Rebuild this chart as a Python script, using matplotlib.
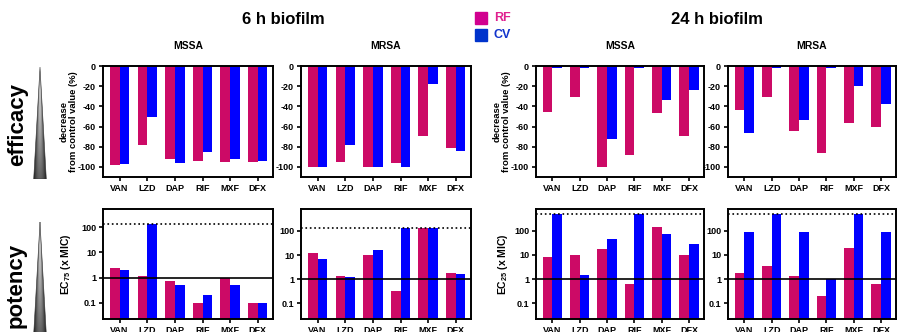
import numpy as np
import matplotlib
matplotlib.use('Agg')
from matplotlib import pyplot as plt
from matplotlib.patches import Polygon, Rectangle

plt.rcParams['font.family'] = ['Liberation Sans', 'DejaVu Sans']
plt.rcParams['font.weight'] = 'bold'
plt.rcParams['axes.unicode_minus'] = False
plt.rcParams['mathtext.fontset'] = 'custom'
plt.rcParams['mathtext.rm'] = 'Liberation Sans:bold'
plt.rcParams['mathtext.bf'] = 'Liberation Sans:bold'

drugs = ['VAN', 'LZD', 'DAP', 'RIF', 'MXF', 'DFX']

# efficacy: decrease from control value (%)
rf_6h_mssa = [-98, -78, -92, -94, -95, -95]
cv_6h_mssa = [-97, -51, -96, -85, -92, -94]
rf_6h_mrsa = [-100, -95, -100, -96, -69, -81]
cv_6h_mrsa = [-100, -78, -100, -100, -18, -84]
rf_24h_mssa = [-46, -31, -100, -88, -47, -69]
cv_24h_mssa = [-1.5, -1.5, -72, -1.5, -34, -24]
rf_24h_mrsa = [-44, -31, -64, -86, -56, -60]
cv_24h_mrsa = [-66, -1.5, -54, -1.5, -20, -38]

# potency: EC75 (6 h) / EC25 (24 h), x MIC
ec_rf_6h_mssa = [2.4, 1.15, 0.72, 0.1, 1.0, 0.1]
ec_cv_6h_mssa = [1.95, 128, 0.5, 0.2, 0.5, 0.1]
ec_rf_6h_mrsa = [12, 1.33, 9.7, 0.32, 128, 1.78]
ec_cv_6h_mrsa = [6.8, 1.2, 16, 128, 128, 1.6]
ec_rf_24h_mssa = [8.1, 10, 17.5, 0.63, 140, 10]
ec_cv_24h_mssa = [512, 1.47, 45, 512, 72, 28]
ec_rf_24h_mrsa = [1.78, 3.5, 1.33, 0.2, 19, 0.63]
ec_cv_24h_mrsa = [87, 512, 87, 1.0, 512, 87]

max_conc_6h = 128
max_conc_24h = 512

RF_COL = '#CC0A66'
CV_COL = '#0000FF'

W, H = 898, 332
fig = plt.figure(figsize=(W / 100, H / 100), dpi=100)


def px_axes(x0, y0, x1, y1):
    return fig.add_axes([x0 / W, 1 - y1 / H, (x1 - x0) / W, (y1 - y0) / H])


def style(ax):
    for s in ax.spines.values():
        s.set_linewidth(1.4)
    ax.tick_params(axis='both', labelsize=6.5, width=1.2, length=3, pad=2)
    ax.tick_params(axis='y', which='minor', length=0)
    ax.set_xlim(-0.6, 5.55)
    ax.set_xticks(np.arange(len(drugs)))
    ax.set_xticklabels(drugs, fontweight='bold')


xcols = [(103, 273), (301, 471), (536, 704), (728, 896)]
top_data = [(rf_6h_mssa, cv_6h_mssa), (rf_6h_mrsa, cv_6h_mrsa),
            (rf_24h_mssa, cv_24h_mssa), (rf_24h_mrsa, cv_24h_mrsa)]
bot_data = [(ec_rf_6h_mssa, ec_cv_6h_mssa), (ec_rf_6h_mrsa, ec_cv_6h_mrsa),
            (ec_rf_24h_mssa, ec_cv_24h_mssa), (ec_rf_24h_mrsa, ec_cv_24h_mrsa)]
strains = ['MSSA', 'MRSA', 'MSSA', 'MRSA']
max_lines = [max_conc_6h, max_conc_6h, max_conc_24h, max_conc_24h]
bot_ylims = [(0.023, 525), (0.022, 820), (0.022, 800), (0.022, 800)]

x = np.arange(len(drugs))
bw = 0.35
for i, (x0, x1) in enumerate(xcols):
    # efficacy row
    ax = px_axes(x0, 66, x1, 177)
    rf, cv = top_data[i]
    ax.bar(x - bw / 2, rf, bw, color=RF_COL)
    ax.bar(x + bw / 2, cv, bw, color=CV_COL)
    ax.set_ylim(-110, 0)
    ax.set_yticks([0, -20, -40, -60, -80, -100])
    style(ax)
    ax.set_title(strains[i], fontsize=7.5, fontweight='bold', pad=12)
    if i in (0, 2):
        ax.set_ylabel('decrease\nfrom control value (%)', fontsize=6.8,
                      fontweight='bold', labelpad=0, linespacing=1.0)

    # potency row
    ax = px_axes(x0, 209, x1, 319)
    rf, cv = bot_data[i]
    ax.set_yscale('log')
    ax.bar(x - bw / 2, np.array(rf) - 0.001, bw, bottom=0.001, color=RF_COL)
    ax.bar(x + bw / 2, np.array(cv) - 0.001, bw, bottom=0.001, color=CV_COL)
    ax.axhline(1, color='black', lw=1.2)
    ax.axhline(max_lines[i], color='black', lw=1.2, ls=':')
    ax.set_ylim(*bot_ylims[i])
    ax.set_yticks([0.1, 1, 10, 100])
    ax.set_yticklabels(['0.1', '1', '10', '100'])
    style(ax)
    if i == 0:
        ax.set_ylabel(r'EC$_{75}$ (x MIC)', fontsize=7.5, fontweight='bold', labelpad=6)
    if i == 2:
        ax.set_ylabel(r'EC$_{25}$ (x MIC)', fontsize=7.5, fontweight='bold', labelpad=3)

# headers
fig.text(283 / W, 1 - 20 / H, '6 h biofilm', fontsize=12, fontweight='bold',
         ha='center', va='center')
fig.text(717 / W, 1 - 20 / H, '24 h biofilm', fontsize=12, fontweight='bold',
         ha='center', va='center')

# legend
fig.patches.append(Rectangle((475 / W, 1 - 24 / H), 12 / W, 12 / H,
                             color='#D1008F', transform=fig.transFigure))
fig.patches.append(Rectangle((475 / W, 1 - 41 / H), 12 / W, 12 / H,
                             color='#0033CC', transform=fig.transFigure))
fig.text(494 / W, 1 - 18 / H, 'RF', color='#E0208F', fontsize=9,
         fontweight='bold', va='center')
fig.text(494 / W, 1 - 35 / H, 'CV', color='#1133CC', fontsize=9,
         fontweight='bold', va='center')

# row labels
fig.text(18 / W, 1 - 124 / H, 'efficacy', fontsize=16, fontweight='bold',
         rotation=90, ha='center', va='center')
fig.text(16 / W, 1 - 285 / H, 'potency', fontsize=16, fontweight='bold',
         rotation=90, ha='center', va='center')

# gradient triangles: light in the middle, dark at the edges and towards the base
for y0, y1 in [(67, 179), (222, 334)]:
    th = y1 - y0
    rows, cols = th * 4, 64
    t = np.linspace(0, 1, rows)[:, None]
    xs = np.linspace(-8, 8, cols)[None, :]
    hw = np.maximum(6 * t, 0.4)
    u = np.clip(np.abs(xs) / hw, 0, 1)
    shade = (1.0 - 0.62 * t) * (1 - 0.6 * u ** 2)
    tax = px_axes(32, y0, 48, y1)
    tax.set_xlim(-8, 8)
    tax.set_ylim(th, 0)
    tax.axis('off')
    im = tax.imshow(shade, cmap='gray', vmin=0, vmax=1, aspect='auto',
                    extent=(-8, 8, th, 0), interpolation='bilinear')
    tri = Polygon([(0, 0), (-6.3, th), (6.3, th)], closed=True,
                  facecolor='none', edgecolor='#333333', lw=0.4)
    tax.add_patch(tri)
    im.set_clip_path(tri)

fig.savefig('out.png', dpi=100)
